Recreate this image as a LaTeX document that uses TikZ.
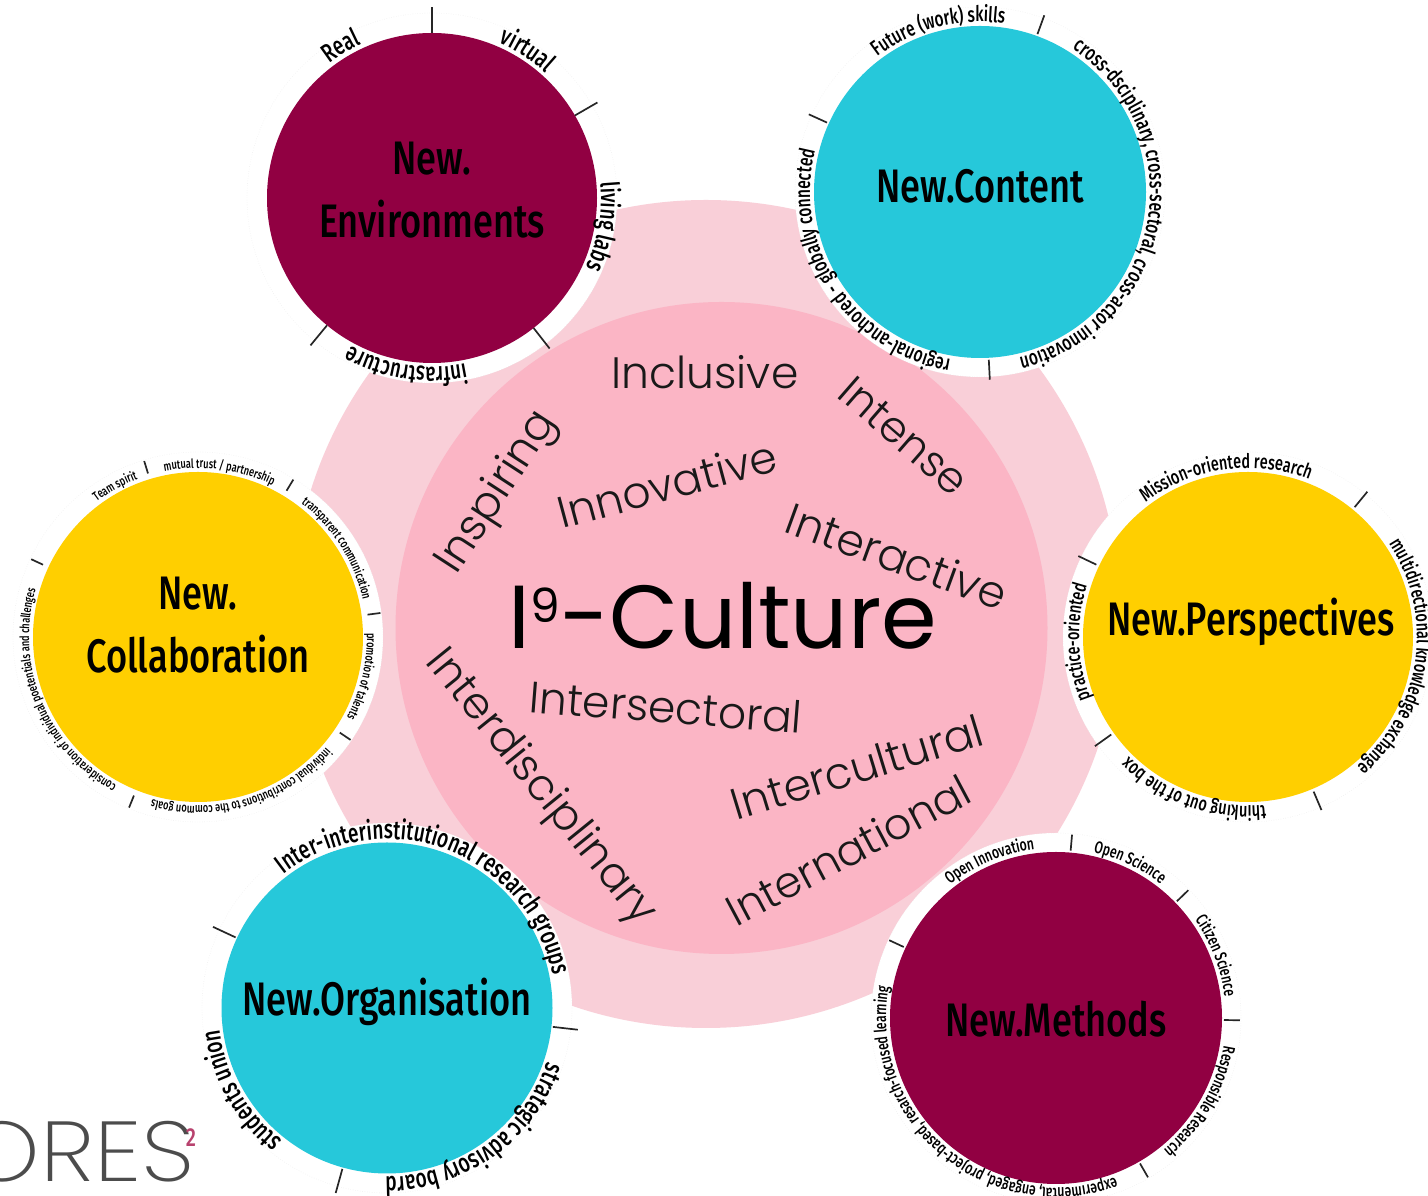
\documentclass[tikz,border=0pt]{standalone}
\usepackage{fontspec}
\usetikzlibrary{decorations.text,calc}
\setmainfont{Poppins}
\newfontfamily\popl{Poppins Light}
\newfontfamily\popx{Poppins ExtraLight}
\newfontfamily\pop{Poppins}
\newfontfamily\ringf[FakeStretch=0.72]{Fira Sans Medium}
\newfontfamily\headf[FakeStretch=0.77]{Fira Sans Medium}
\definecolor{ltpink}{RGB}{249,207,216}
\definecolor{inpink}{RGB}{251,181,197}
\definecolor{ngold}{RGB}{255,207,0}
\definecolor{nteal}{RGB}{38,200,218}
\definecolor{nmaroon}{RGB}{145,0,66}
\definecolor{logorose}{RGB}{184,66,110}
\newcommand{\fsz}[1]{\fontsize{#1}{#1}\selectfont}
% name, centre x, y, radius, fill
\newcommand{\disc}[5]{%
  \node[halo] (#1h) at (#2,#3) {};
  \node[maindisc,fill=#5,minimum size=#4*2pt] (#1) at (#2,#3) {};
}
% centre node, radius, a0, a1, size, text
\newcommand{\ringtext}[6]{%
  \path[decorate,decoration={text along path,text align=center,
    text={|\ringf\fsz{#5}|#6}}]
    (#1.center) ++({#3+12}:#2) arc[start angle={#3+12},end angle={#4-12},radius=#2];
}
% centre node, angle, r0, r1
\newcommand{\rtick}[4]{\draw[ticksty] ($(#1.center)+(#2:#3)$) -- ($(#1.center)+(#2:#4)$);}
\tikzset{
  halo/.style={circle,fill=white,draw=black!10,line width=.4pt,dotted,minimum size=370pt,inner sep=0pt},
  maindisc/.style={circle,draw=none,inner sep=0pt},
  ticksty/.style={draw=black!85,line width=1.7pt},
  head/.style={font=\headf,align=center,text=black},
  word/.style={font=\popl,text=black!90},
}
\begin{document}
\begin{tikzpicture}[x=1pt,y=1pt]
\useasboundingbox (0,0) rectangle (1428,1196);
\clip (0,0) rectangle (1428,1196);
\fill[white] (0,0) rectangle (1428,1196);
\node[circle,fill=ltpink,minimum size=828pt,inner sep=0pt] (outer) at (706,582) {};
\node[circle,fill=inpink,minimum size=652pt,inner sep=0pt] (inner) at (721.5,568) {};

\disc{env}{432}{998}{165}{nmaroon}
\disc{con}{980}{1004}{166}{nteal}
\disc{col}{198}{559}{165}{ngold}
\disc{per}{1248}{559}{165}{ngold}
\disc{org}{387}{188}{165.5}{nteal}
\disc{met}{1056}{178}{166}{nmaroon}

\node[head] (envt) at (432,1006) {\fsz{47}New.\\[24pt]\fsz{47}Environments};
\node[head] (cont) at (980,1010) {\fsz{47}New.Content};
\node[head] (colt) at (198,571) {\fsz{47}New.\\[24pt]\fsz{47}Collaboration};
\node[head] (pert) at (1251,574) {\fsz{47}New.Perspectives};
\node[head] (orgt) at (387,194) {\fsz{47}New.Organisation};
\node[head] (mett) at (1056,177) {\fsz{47}New.Methods};

% ticks
\foreach \a in {90,30,-52,230.5}{\rtick{env}{\a}{165}{191}}
\foreach \a in {70,155.6,-87}{\rtick{con}{\a}{168}{188}}
\foreach \a in {107,58.8,7.5,-34,248,155}{\rtick{col}{\a}{171}{184}}
\foreach \a in {50.6,-67,215.5,154.5}{\rtick{per}{\a}{168}{188}}
\foreach \a in {155,-6.5,254.5}{\rtick{org}{\a}{167}{192}}
\foreach \a in {85,44,-0.7,-60,155}{\rtick{met}{\a}{168}{184}}

% ring labels
\ringtext{env}{169}{128}{114}{26}{Real}
\ringtext{env}{169}{68.6}{46}{26}{virtual}
\ringtext{env}{169}{6.5}{-25.6}{26}{living labs}
\ringtext{env}{169}{-76.5}{-121}{26}{infrastructure}

\ringtext{con}{170}{128}{81}{21.5}{Future (work) skills}
\ringtext{con}{170}{58.5}{-78}{21.5}{cross-dsciplinary, cross-sectoral, cross-actor innovation}
\ringtext{con}{170}{-100}{-194}{21.5}{regional-anchored - globally connected}

\ringtext{col}{169}{127}{110.7}{12.8}{Team spirit}
\ringtext{col}{169}{101.7}{63.6}{12.8}{mutual trust / partnership}
\ringtext{col}{169}{53}{12}{12.8}{transparent communication}
\ringtext{col}{169}{1}{-28}{12.8}{promotion of talents}
\ringtext{col}{169}{-40.4}{-106}{12.8}{individual contributions to the common goals}
\ringtext{col}{169}{-118.2}{-197}{12.8}{consideration of individual poetentials and challenges}

\ringtext{per}{169}{127}{69}{20}{Mission-oriented research}
\ringtext{per}{169}{34.6}{-51}{20}{multidirectional knowledge exchange}
\ringtext{per}{169}{-84}{-135}{20}{thinking out of the box}
\ringtext{per}{169}{-159}{-197.5}{20}{practice-oriented}

\ringtext{org}{169}{129}{9.6}{26.5}{Inter-interinstitutional research groups}
\ringtext{org}{169}{-17.6}{-91.6}{26.5}{strategic advisory board}
\ringtext{org}{169}{-128}{-173}{26.5}{students union}

\ringtext{met}{170}{128.7}{97}{17}{Open Innovation}
\ringtext{met}{170}{77.5}{51.7}{17}{Open Science}
\ringtext{met}{170}{36}{6.5}{17}{Citizen Science}
\ringtext{met}{170}{-8.7}{-51.5}{17}{Responsible Research}
\ringtext{met}{170}{-68}{-192}{17}{experimental, engaged, project-based, resarch-focused learning}

% centre words
\node[font=\pop,text=black] (cult) at (723,580) {\fsz{89.5}I\raisebox{26pt}{\fsz{47}9}-Culture};
\node[word,rotate=0] (w1) at (705,824) {\fsz{44}Inclusive};
\node[word,rotate=-41] (w2) at (904,760) {\fsz{43}Intense};
\node[word,rotate=57] (w3) at (498,703) {\fsz{44}Inspiring};
\node[word,rotate=15] (w4) at (667,712) {\fsz{44}Innovative};
\node[word,rotate=-20] (w5) at (897,640) {\fsz{44}Interactive};
\node[word,rotate=-51] (w6) at (540,408) {\fsz{43.5}Interdisciplinary};
\node[word,rotate=-4.5] (w7) at (666,489) {\fsz{44}Intersectoral};
\node[word,rotate=17] (w8) at (857,429) {\fsz{44}Intercultural};
\node[word,rotate=28] (w9) at (848,346) {\fsz{43}International};

% logo
\node[font=\popx,text=black!70,anchor=base east,inner sep=0pt,xscale=1.13,transform shape] (logo) at (195,14) {\fsz{85}ORES};
\node[font=\headf,text=logorose,inner sep=0pt] (logo2) at (191,58) {\fsz{26}2};
\end{tikzpicture}
\end{document}
